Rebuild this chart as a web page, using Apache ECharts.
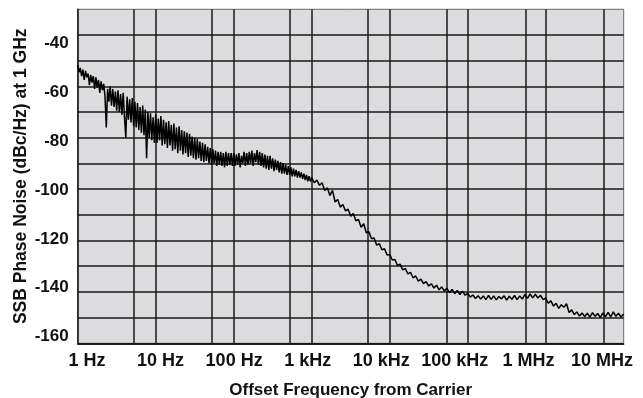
<!DOCTYPE html>
<html><head><meta charset="utf-8">
<script src="https://cdn.jsdelivr.net/npm/echarts@6/dist/echarts.min.js"></script>
<style>html,body{margin:0;padding:0;background:#fff}#c{width:643px;height:398px}</style>
</head><body><div id="c"></div>
<script>
// Tick labels
const xTickLabels = ['1 Hz','10 Hz','100 Hz','1 kHz','10 kHz','100 kHz','1 MHz','10 MHz'];
const yTickLabels = [-40,-60,-80,-100,-120,-140,-160];
// vertical grid lines (Hz), as drawn in the reference (decades and the ~5x lines)
const gridFreqs = [5.2,10,52,100,520,1000,5300,1e4,54000,1e5,550000,1e6,5500000];
// trace, one array per decade, points evenly spaced in log frequency inside each decade (dBc/Hz)
const noise1Hz = [-51.5,-54.5,-52.8,-56,-53.5,-57.5,-54,-56.5,-55,-59.5,-55.5,-58.5,-56,-61,-56.5,-60.5,-57.5,-62.5,-58,-61.5,-59,-64,-76,-61,-66,-60,-67.5,-61,-68,-62,-69.5,-61.5,-70,-63,-71,-62.5,-72,-80,-64,-73,-65,-74,-64.5,-75.5,-66,-76,-66.5,-77,-68,-78,-67.5,-79,-69,-88,-70,-80,-70.5,-81,-72,-82];
const noise10Hz = [-71,-82,-72.5,-81,-71.5,-83,-73,-82.5,-74,-84,-73.5,-83,-75,-85,-74.5,-84.5,-76,-86,-75.5,-85,-77,-86.5,-77.5,-86,-78,-87.5,-78.5,-87,-79.5,-88,-80,-88.5,-80.5,-88,-81.5,-89,-82,-89.5,-82.5,-89,-83.5,-90,-84,-90.5,-84.5,-90,-85,-91,-85.5,-90.5,-85.5,-91,-86,-91.5,-85.5,-91,-86,-90.5,-86,-91];
const noise100Hz = [-86,-91,-86.5,-90.5,-86,-91.5,-87,-90,-85.5,-91,-86,-90.5,-85.5,-90,-85,-91,-86,-89.5,-84.8,-90.5,-85.5,-91,-86,-91.5,-86.5,-92,-87,-92.5,-87,-92,-88,-93,-88.5,-92.5,-89,-93.5,-89.5,-94,-90,-94,-90.5,-94.5,-91,-94.5,-91.5,-95,-92,-95,-92.5,-95.5,-93,-95.5,-93.5,-96,-94,-96.5,-94.5,-97,-95,-97];
const noise1kHz = [-95.5,-97.5,-96.5,-98.5,-97.5,-100.5,-99.5,-102.5,-100.5,-105,-104,-107,-106,-108.5,-107.8,-110.5,-109.5,-112.3,-111.8,-114.8,-113.5,-117,-116.5,-119.3,-119,-121.8,-121.2,-123.6,-123.2,-125.6];
const noise10kHz = [-125.4,-127.6,-127.4,-129.7,-129.2,-131.4,-130.9,-133,-132.4,-134.5,-133.8,-135.8,-135,-136.8,-136,-137.7,-136.8,-138.5,-137.4,-139.2,-138,-139.6,-138.6,-140.3,-139,-140.7,-139.4,-141,-139.7,-141.3];
const noise100kHz = [-140.6,-142,-141.2,-142.6,-141.5,-142.8,-141.6,-143,-141.4,-142.9,-141.6,-143.1,-141.8,-142.7,-141.5,-143.2,-141.7,-142.9,-141.4,-143,-141.6,-142.8,-141,-142.5,-140.8,-142.3,-140.9,-142.4,-141.3,-143];
const noise1MHz = [-142.4,-144.4,-143.5,-145.5,-144.4,-146.4,-145,-146,-144.6,-148,-147,-148.8,-147.8,-149.4,-148.2,-149.6,-148.3,-149.8,-148.1,-149.5,-148.4,-149.9,-148.2,-149.6,-148,-149.7,-147.8,-149.5,-148.3,-149.8,-148.6];

const decades = [noise1Hz, noise10Hz, noise100Hz, noise1kHz, noise10kHz, noise100kHz, noise1MHz];
const traceData = [];
decades.forEach((arr, d) => {
  const n = d === decades.length - 1 ? arr.length - 1 : arr.length;
  arr.forEach((v, k) => traceData.push([Math.pow(10, d + k / n), v]));
});

const FONT = "'Liberation Sans', Arial, sans-serif";
const txt = (size) => ({color: '#111', fontFamily: FONT, fontWeight: 'bold', fontSize: size});
const chart = echarts.init(document.getElementById('c'), null, {renderer: 'canvas'});
chart.setOption({
  animation: false,
  grid: {left: 77.7, right: 19.3, top: 9.3, bottom: 54.7, outerBoundsMode: 'none', containLabel: false,
         show: true, backgroundColor: '#dcdcdf', borderColor: '#6a6a6a', borderWidth: 1},
  xAxis: [
    {type: 'log', logBase: 10, min: 1, max: 1e7, gridIndex: 0,
     axisLine: {show: true, onZero: false, lineStyle: {color: '#111', width: 1.5}}, axisTick: {show: false},
     axisLabel: {show: false}, splitLine: {show: false}},
    {type: 'value', min: -0.126, max: 7.295, gridIndex: 0, position: 'bottom',
     axisLine: {show: false, onZero: false}, axisTick: {show: false}, splitLine: {show: false},
     axisLabel: Object.assign({customValues: [0,1,2,3,4,5,6,7], formatter: v => xTickLabels[Math.round(v)],
       margin: 9, hideOverlap: false}, txt(18)),
     name: 'Offset Frequency from Carrier', nameLocation: 'middle', nameGap: 39, nameMoveOverlap: false,
     nameTextStyle: txt(17)}
  ],
  yAxis: [
    {type: 'value', min: -160, max: -30, interval: 10, gridIndex: 0,
     axisLine: {show: true, onZero: false, lineStyle: {color: '#111', width: 1.5}}, axisTick: {show: false}, axisLabel: {show: false},
     splitLine: {show: true, showMaxLine: false, lineStyle: {color: '#1a1a1a', width: 1.5}}},
    {type: 'value', min: -162.7, max: -26.1, gridIndex: 0, position: 'left',
     axisLine: {show: false, onZero: false}, axisTick: {show: false}, splitLine: {show: false},
     axisLabel: Object.assign({customValues: yTickLabels, formatter: v => String(v), margin: 9}, txt(17)),
     name: 'SSB Phase Noise (dBc/Hz) at 1 GHz', nameLocation: 'middle', nameGap: 48, nameMoveOverlap: false,
     nameTextStyle: txt(17.5)}
  ],
  series: [{
    type: 'line', xAxisIndex: 0, yAxisIndex: 0, data: traceData, showSymbol: false, symbol: 'none',
    lineStyle: {color: '#000', width: 1.5}, z: 5,
    markLine: {silent: true, symbol: 'none', label: {show: false}, animation: false,
      lineStyle: {color: '#1a1a1a', width: 1.5, type: 'solid'},
      data: gridFreqs.map(f => ({xAxis: f}))}
  }]
});
</script></body></html>
